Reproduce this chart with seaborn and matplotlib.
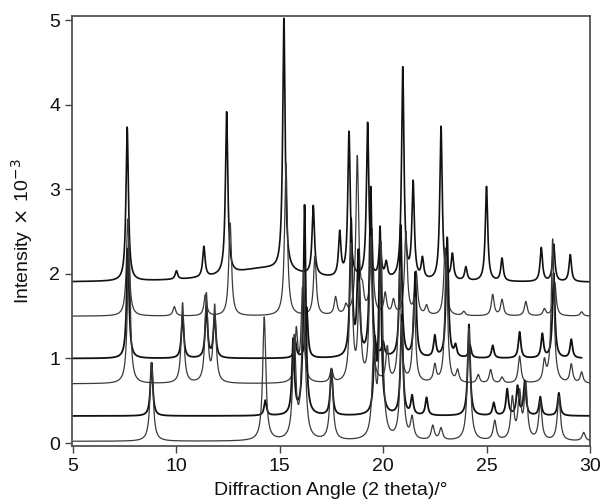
import numpy as np
import pandas as pd
import seaborn as sns
import matplotlib
matplotlib.use("Agg")
import matplotlib.pyplot as plt

# ---- data: peak positions (2theta) and peak tops (intensity x 1e-3) per pattern ----
a_base = 1.90
a_pos = [7.62, 10.0, 11.33, 12.43, 14.3, 15.2, 16.62, 17.9, 18.35, 19.25, 19.85, 20.15,
         20.95, 21.45, 21.9, 22.8, 23.35, 24.0, 25.0, 25.75, 27.65, 28.25, 29.05]
a_top = [3.72, 2.00, 2.26, 3.82, 2.06, 4.88, 2.72, 2.42, 3.62, 3.74, 2.32, 2.08,
         4.40, 3.03, 2.14, 3.72, 2.20, 2.06, 3.02, 2.17, 2.30, 2.34, 2.22]
a_broad = 14.3  # position of the broad amorphous hump in the top pattern

b_base = 1.50
b_pos = [7.65, 9.9, 11.4, 12.6, 15.3, 16.7, 17.7, 18.2, 18.75, 19.0, 19.45, 20.1, 20.5,
         21.1, 21.6, 22.1, 23.0, 23.9, 25.3, 25.75, 26.9, 27.8, 28.3, 29.6]
b_top = [2.65, 1.61, 1.75, 2.60, 3.30, 2.20, 1.71, 1.60, 3.36, 1.71, 2.50, 1.75, 1.67,
         2.48, 2.00, 1.61, 2.30, 1.55, 1.75, 1.69, 1.67, 1.58, 1.90, 1.55]

c_base = 1.00
c_pos = [7.65, 10.3, 11.45, 11.85, 15.75, 16.3, 18.45, 18.8, 19.4, 20.0, 20.85, 21.55,
         22.5, 23.1, 23.5, 24.2, 25.3, 26.6, 27.7, 28.25, 29.1]
c_top = [2.30, 1.50, 1.60, 1.50, 1.20, 1.60, 2.60, 2.20, 3.00, 1.16, 2.56, 2.00,
         1.25, 2.42, 1.13, 1.15, 1.15, 1.31, 1.28, 2.00, 1.22]
c_end = 29.6

d_base = 0.70
d_pos = [7.7, 10.3, 11.45, 11.85, 15.8, 16.1, 17.5, 18.45, 18.85, 19.4, 20.2, 20.8, 21.5,
         22.5, 23.05, 23.6, 24.6, 25.2, 25.75, 26.6, 27.8, 28.2, 29.1, 29.6]
d_top = [2.40, 1.65, 1.74, 1.60, 1.30, 1.80, 0.86, 2.30, 1.80, 2.40, 1.10, 2.00, 1.70,
         0.90, 2.20, 0.84, 0.80, 0.86, 0.77, 1.02, 0.94, 2.40, 0.92, 0.83]

e_base = 0.32
e_pos = [8.8, 14.3, 15.65, 16.2, 17.5, 19.6, 19.85, 20.9, 21.4, 22.1, 24.15, 25.35,
         26.0, 26.5, 26.85, 27.6, 28.5]
e_top = [0.95, 0.50, 1.20, 2.80, 0.86, 1.10, 2.50, 1.50, 0.54, 0.53, 1.40, 0.47,
         0.63, 0.66, 0.72, 0.54, 0.59]

f_base = 0.02
f_pos = [8.8, 14.25, 15.7, 16.15, 17.5, 19.55, 19.9, 20.9, 21.4, 22.4, 22.8, 24.15, 25.4,
         26.25, 26.6, 26.9, 27.6, 28.5, 29.7]
f_top = [0.95, 1.48, 1.20, 2.00, 0.86, 1.10, 2.30, 1.40, 0.27, 0.19, 0.16, 1.35, 0.25,
         0.51, 0.55, 0.66, 0.47, 0.54, 0.12]

x_ticks = [5, 10, 15, 20, 25, 30]
y_ticks = [0, 1, 2, 3, 4, 5]


def pattern(x, base, pos, top, hw, end=None, broad=None):
    y = np.full_like(x, base)
    for p, t in zip(pos, top):
        w = 2.2 if (broad is not None and p == broad) else hw
        y += (t - base) * w ** 2 / ((x - p) ** 2 + w ** 2)
    if end is not None:
        y = np.where(x <= end, y, np.nan)
    return y


sns.set_style("ticks")
plt.rcParams['font.family'] = ['Liberation Sans', 'DejaVu Sans']

fig = plt.figure(figsize=(6.05, 5.0), dpi=100)
ax = fig.add_axes([0.119, 0.108, 0.856, 0.860])

x = np.linspace(5, 30, 5001)
traces = [
    (a_base, a_pos, a_top, 0.07, None, a_broad, '#111111', 1.2),
    (b_base, b_pos, b_top, 0.08, None, None, '#3a3a3a', 0.9),
    (c_base, c_pos, c_top, 0.07, c_end, None, '#111111', 1.3),
    (d_base, d_pos, d_top, 0.08, None, None, '#3a3a3a', 0.9),
    (e_base, e_pos, e_top, 0.07, None, None, '#111111', 1.3),
    (f_base, f_pos, f_top, 0.09, None, None, '#3a3a3a', 0.9),
]
for base, pos, top, hw, end, broad, col, lw in traces:
    y = pattern(x, base, pos, top, hw, end, broad)
    df = pd.DataFrame({'x': x, 'y': y}).dropna()
    sns.lineplot(data=df, x='x', y='y', ax=ax, color=col, lw=lw,
                 estimator=None, sort=False)

ax.set_xlim(4.95, 30.0)
ax.set_ylim(-0.035, 5.05)
ax.set_xticks(x_ticks)
ax.set_yticks(y_ticks)
ax.tick_params(labelsize=14, length=5, width=1, color='#444444', labelcolor='#111111')
for s in ax.spines.values():
    s.set_visible(True)
    s.set_color('#444444')
    s.set_linewidth(1.2)
ax.set_xlabel('Diffraction Angle (2 theta)/°', fontsize=14, labelpad=5, color='#111111')
ax.set_ylabel('Intensity$\\,\\times\\,$10$^{-3}$', fontsize=14, labelpad=10, color='#111111')

fig.savefig('out.png', dpi=100)
